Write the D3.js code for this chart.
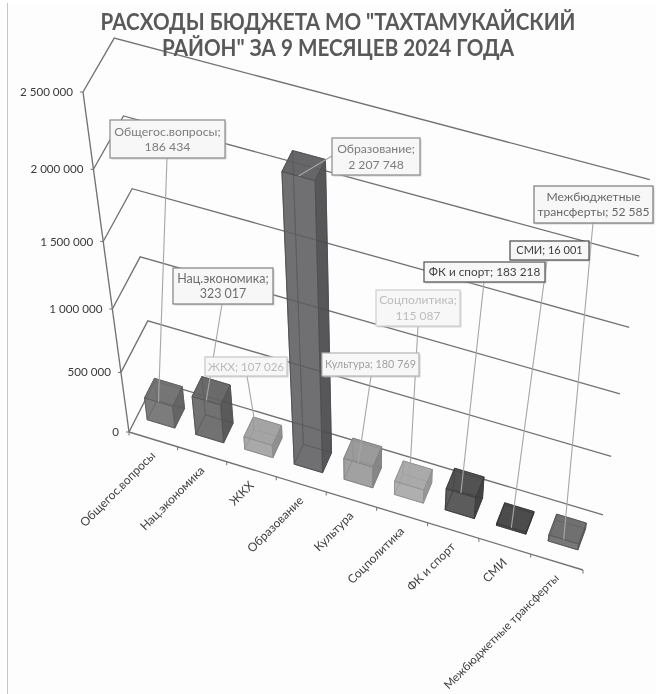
<!DOCTYPE html>
<html><head><meta charset="utf-8">
<script src="https://cdn.jsdelivr.net/npm/d3@7"></script>
<style>
html,body{margin:0;padding:0;background:#fff}
svg{display:block;filter:blur(0.5px)}
text{font-family:"Lato","Open Sans","Noto Sans",sans-serif}
</style></head><body>
<svg id="c" width="656" height="694"></svg>
<script>
const categories=["Общегос.вопросы","Нац.экономика","ЖКХ","Образование","Культура","Соцполитика","ФК и спорт","СМИ","Межбюджетные трансферты"];
const values=[186434,323017,107026,2207748,180769,115087,183218,16001,52585];
const yTicks=[0,500000,1000000,1500000,2000000,2500000];
const titleLines=['РАСХОДЫ БЮДЖЕТА МО "ТАХТАМУКАЙСКИЙ','РАЙОН" ЗА 9 МЕСЯЦЕВ 2024 ГОДА'];
const titleWidths=[475,352];
const barColors=["#686868","#5c5c5c","#9c9c9c","#58585b","#929292","#a2a2a2","#424242","#3c3c3c","#626262"];
const labelText=["#7d7d7d","#6f6f6f","#b9b9b9","#7c7c7c","#a0a0a0","#bcbcbc","#444444","#3c3c3c","#666666"];
const labelBorder=["#8a8a8a","#808080","#c6c6c6","#8a8a8a","#b4b4b4","#cfcfcf","#505050","#484848","#7a7a7a"];
// label box layout: left, top, right, bottom, leader start x, leader start y, two lines?, font size
const boxes=[
 {x0:110,y0:120,x1:225,y1:158,lx:167,ly:158,brk:true,fs:12.3},
 {x0:173,y0:268,x1:273,y1:304,lx:222,ly:304,brk:true,fs:12.5},
 {x0:205,y0:357,x1:287,y1:376,lx:247,ly:376,brk:false,fs:11.5},
 {x0:332,y0:138,x1:420,y1:175,lx:332,ly:156,brk:true,fs:12.2},
 {x0:322,y0:353,x1:419,y1:376,lx:371,ly:376,brk:false,fs:10.8},
 {x0:376,y0:290,x1:460,y1:326,lx:418,ly:326,brk:true,fs:12},
 {x0:424,y0:262,x1:545,y1:282,lx:484,ly:282,brk:false,fs:11.8},
 {x0:510,y0:241,x1:589,y1:260,lx:547,ly:260,brk:false,fs:11},
 {x0:534,y0:186,x1:653,y1:223,lx:593,ly:223,brk:true,fs:12.1}
];

const fmt=d3.formatLocale({decimal:",",thousands:"\u00a0",grouping:[3],currency:["",""]}).format(",d");
const svg=d3.select("#c");

// data -> unit cube scales
const xS=d3.scaleBand().domain(categories).range([0,1]).paddingInner(0.43).paddingOuter(0.215);
const xEdge=d3.scaleLinear().domain([0,categories.length]).range([0,1]);
const yS=d3.scaleLinear().domain([0,2500000]).range([0,1]);
const zS=d3.scaleLinear().domain([0,1]).range([0.3,0.68]);

// perspective projection of the unit cube onto the page
function proj(X,Y,Z){
  const w=1-0.04*X-0.15*Y+0.015*Z;
  return [(129+430.7*X-58.45*Y+28.26*Z+6.6*X*Y)/w,(432+115.2*X-353.8*Y-45.2*Z)/w];
}
const line=d3.line();

// page background and left edge
svg.append("rect").attr("x",7.5).attr("y",3).attr("width",649).attr("height",691).attr("fill","#fdfdfd");
svg.append("line").attr("x1",7.5).attr("x2",7.5).attr("y1",3).attr("y2",694).attr("stroke","#c4c4c4");

// grid
const grid=svg.append("g").attr("fill","none").attr("stroke","#727272").attr("stroke-width",1.35);
grid.selectAll("path.g").data(yTicks).join("path").attr("class","g")
 .attr("d",v=>line([proj(0,yS(v),0),proj(0,yS(v),1),proj(1,yS(v),1)]));
grid.append("path").attr("d",line([proj(0,0,0),proj(0,1,0)]));
grid.append("path").attr("d",line([proj(0,0,0),proj(1,0,0)]));

// ticks
const ticks=svg.append("g").attr("stroke","#727272").attr("fill","none");
ticks.selectAll("path.y").data(yTicks).join("path").attr("class","y").attr("d",v=>{
  const p=proj(0,yS(v),0);return line([[p[0]-3,p[1]],p]);});
ticks.selectAll("path.x").data(d3.range(0,categories.length+1)).join("path").attr("class","x").attr("d",i=>{
  const p=proj(xEdge(i),0,0);return line([p,[p[0],p[1]+3.5]]);});

// y labels
svg.append("g").selectAll("text").data(yTicks).join("text")
 .attr("x",v=>proj(0,yS(v),0)[0]-10).attr("y",v=>proj(0,yS(v),0)[1]).attr("dy","0.35em")
 .attr("text-anchor","end").attr("font-size",11.6).attr("fill","#3a3a3a").text(v=>fmt(v));

// x labels
svg.append("g").selectAll("text").data(categories).join("text")
 .attr("transform",(c,i)=>{const p=proj(xEdge(i+0.5),0,0);return `translate(${p[0]},${p[1]+14}) rotate(-45)`;})
 .attr("dy","0.35em").attr("text-anchor","end").attr("font-size",c=>c.length>20?11.5:12).attr("fill","#404040").text(c=>c);

// bars
function faces(c,v){
  const a=xS(c),b=a+xS.bandwidth(),h=yS(v),z0=zS(0),z1=zS(1);
  const P=(x,y,z)=>proj(x,y,z);
  return [
   {p:[P(a,0,z1),P(b,0,z1),P(b,h,z1),P(a,h,z1)],o:0.6,s:0},
   {p:[P(a,0,z0),P(a,0,z1),P(a,h,z1),P(a,h,z0)],o:0.6,s:0},
   {p:[P(a,0,z0),P(b,0,z0),P(b,0,z1),P(a,0,z1)],o:0.6,s:0},
   {p:[P(b,0,z0),P(b,0,z1),P(b,h,z1),P(b,h,z0)],o:0.88,s:-0.12},
   {p:[P(a,0,z0),P(b,0,z0),P(b,h,z0),P(a,h,z0)],o:0.72,s:0.04},
   {p:[P(a,h,z0),P(b,h,z0),P(b,h,z1),P(a,h,z1)],o:0.85,s:0.03}
  ];
}
function shade(col,s){return s<0?d3.interpolateRgb(col,"#000")(-s):d3.interpolateRgb(col,"#fff")(s);}
const barG=svg.append("g").selectAll("g").data(categories).join("g");
barG.each(function(c,i){
  d3.select(this).selectAll("path").data(faces(c,values[i])).join("path")
   .attr("d",f=>line(f.p)+"Z")
   .attr("fill",f=>shade(barColors[i],f.s)).attr("fill-opacity",f=>f.o)
   .attr("stroke",d3.interpolateRgb(barColors[i],"#000")(0.12)).attr("stroke-opacity",0.75).attr("stroke-width",1)
   .attr("stroke-linejoin","round");
});

// leaders
svg.append("g").selectAll("line").data(categories).join("line")
 .attr("x1",(c,i)=>boxes[i].lx).attr("y1",(c,i)=>boxes[i].ly)
 .attr("x2",(c,i)=>proj(xS(c)+xS.bandwidth()/2,yS(values[i]),zS(0))[0])
 .attr("y2",(c,i)=>proj(xS(c)+xS.bandwidth()/2,yS(values[i]),zS(0))[1])
 .attr("stroke","#a6a6a6").attr("stroke-width",1.1);

// label boxes
const lab=svg.append("g").selectAll("g").data(categories).join("g");
lab.each(function(c,i){
  const b=boxes[i],g=d3.select(this),W=b.x1-b.x0,H=b.y1-b.y0;
  g.append("rect").attr("x",b.x0+1.5).attr("y",b.y0+1.5).attr("width",W).attr("height",H).attr("fill","#bdbdbd").attr("opacity",0.6);
  g.append("rect").attr("x",b.x0).attr("y",b.y0).attr("width",W).attr("height",H).attr("fill","#f7f7f7").attr("stroke",labelBorder[i]).attr("stroke-width",1.2);
  const full=`${c}; ${fmt(values[i])}`;
  let lines=[full];
  if(b.brk){const k=full.indexOf(" ");lines=[full.slice(0,k),full.slice(k+1)];}
  const cx=(b.x0+b.x1)/2,cy=(b.y0+b.y1)/2;
  lines.forEach((t,j)=>g.append("text").attr("x",cx).attr("y",cy+(j-(lines.length-1)/2)*15.5).attr("dy","0.35em")
    .attr("text-anchor","middle").attr("font-size",b.fs).attr("fill",labelText[i]).text(t));
});

// title
svg.append("g").selectAll("text").data(titleLines).join("text")
 .attr("x",338).attr("y",(d,i)=>30+i*26).attr("text-anchor","middle")
 .attr("font-size",23).attr("font-weight",700).attr("fill","#595959")
 .attr("textLength",(d,i)=>titleWidths[i]).attr("lengthAdjust","spacingAndGlyphs").text(d=>d);
</script></body></html>
